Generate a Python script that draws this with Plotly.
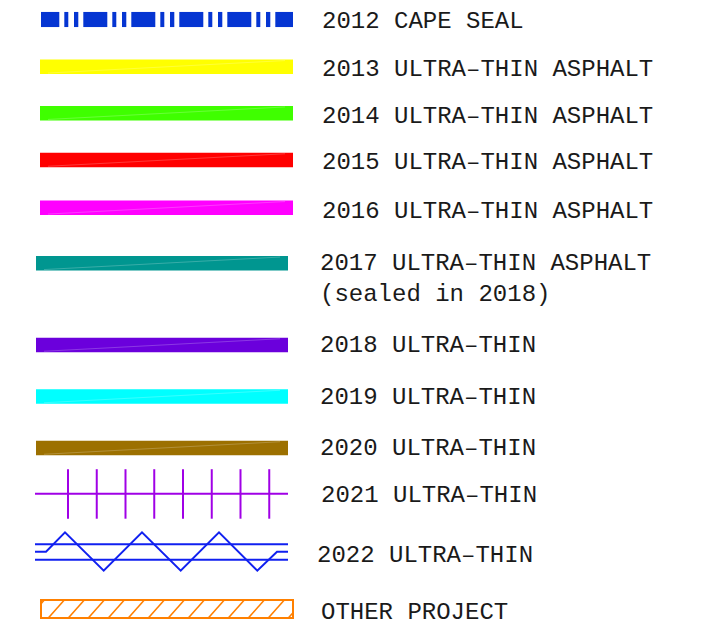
import plotly.graph_objects as go

# ---- legend content ----
labels = [
    "2012 CAPE SEAL",
    "2013 ULTRA–THIN ASPHALT",
    "2014 ULTRA–THIN ASPHALT",
    "2015 ULTRA–THIN ASPHALT",
    "2016 ULTRA–THIN ASPHALT",
    "2017 ULTRA–THIN ASPHALT<br>(sealed in 2018)",
    "2018 ULTRA–THIN",
    "2019 ULTRA–THIN",
    "2020 ULTRA–THIN",
    "2021 ULTRA–THIN",
    "2022 ULTRA–THIN",
    "OTHER PROJECT",
]
kinds = ["dashbar", "bar", "bar", "bar", "bar", "bar", "bar", "bar", "bar",
         "ticks", "zigzag", "hatch"]
colors = ["#0535D2", "#FFFF00", "#3FFF00", "#FF0000", "#FF00FF", "#009690",
          "#6B00DC", "#00FFFF", "#9C7000", "#A000E6", "#1020F0", "#FF8000"]

# ---- layout (pixel space) ----
W, H = 712, 632
row_y = [19.5, 66.8, 113.2, 160, 207.8, 263.3, 345, 396.5, 448, 493.7, 552, 609]
sym_x = [(41, 293), (40, 293), (40, 293), (40, 293), (40, 293), (36, 288),
         (36, 288), (36, 288), (36, 288), (35, 288), (35, 288), (41, 293)]
text_x = [320, 320, 320, 320, 320, 318, 318, 318, 318, 319, 315, 319]
text_y = [21, 69, 116, 162, 211, 278.5, 345.5, 397.5, 448, 495, 555, 612]
bar_h = 14.5

fig = go.Figure()
shapes = []

def line_trace(xs, ys, color, width):
    fig.add_trace(go.Scatter(x=xs, y=ys, mode="lines",
                             line=dict(color=color, width=width),
                             hoverinfo="skip", showlegend=False))

for i, kind in enumerate(kinds):
    c = colors[i]
    x0, x1 = sym_x[i]
    yc = row_y[i]
    if kind == "bar":
        y0, y1 = yc - bar_h / 2, yc + bar_h / 2
        shapes.append(dict(type="rect", xref="x", yref="y", x0=x0, x1=x1,
                           y0=y0, y1=y1, fillcolor=c, line=dict(width=0),
                           layer="below"))
        line_trace([x0 + 8, x1 - 8], [y1 - 1, y0 + 1],
                   "rgba(255,255,255,0.22)", 1)
    elif kind == "dashbar":
        y0, y1 = yc - bar_h / 2 - 0.3, yc + bar_h / 2 + 0.3
        segs = [(x0, 59.3)]
        start = 83.3
        while start < x1:
            segs.append((start - 19, start - 15))
            segs.append((start - 9.3, start - 5))
            segs.append((start, min(start + 24, x1)))
            start += 48
        for a, b in segs:
            shapes.append(dict(type="rect", xref="x", yref="y", x0=a, x1=b,
                               y0=y0, y1=y1, fillcolor=c, line=dict(width=0),
                               layer="below"))
    elif kind == "ticks":
        line_trace([x0, x1], [yc, yc], c, 2)
        xs, ys = [], []
        for k in range(8):
            tx = 68 + 28.75 * k
            xs += [tx, tx, None]
            ys += [yc - 24.5, yc + 25, None]
        line_trace(xs, ys, c, 2)
    elif kind == "zigzag":
        line_trace([x0, x1], [yc - 7.7, yc - 7.7], c, 2)
        line_trace([x0, x1], [yc + 7.7, yc + 7.7], c, 2)
        zx = [x0, 46, 65, 103.7, 142, 180.7, 219, 257.3, 277, x1]
        zy = [yc - 0.3, yc - 0.3, yc - 19.7, yc + 18.7, yc - 19.7, yc + 18.7,
              yc - 19.7, yc + 18.7, yc - 0.3, yc - 0.3]
        line_trace(zx, zy, c, 2)
    elif kind == "hatch":
        y0, y1 = yc - 9, yc + 9
        shapes.append(dict(type="rect", xref="x", yref="y", x0=x0, x1=x1,
                           y0=y0, y1=y1, fillcolor="rgba(0,0,0,0)",
                           line=dict(color=c, width=2)))
        dx = 16.0
        xs, ys = [], []
        p = 48.3 - 20
        while p < x1:
            bx, by = p, y1
            tx, ty = p + dx, y0
            if bx < x0:
                by = y1 - (x0 - p) / dx * (y1 - y0)
                bx = x0
            if tx > x1:
                ty = y1 - (x1 - p) / dx * (y1 - y0)
                tx = x1
            xs += [bx, tx, None]
            ys += [by, ty, None]
            p += 20
        line_trace(xs, ys, c, 1.6)

annotations = []
for i, lab in enumerate(labels):
    annotations.append(dict(x=text_x[i], y=text_y[i], xref="x", yref="y",
                            text=lab, showarrow=False, xanchor="left",
                            yanchor="middle", align="left",
                            font=dict(family="Liberation Mono", size=24,
                                      color="#1a1a1a")))

fig.update_layout(
    width=W, height=H,
    margin=dict(l=0, r=0, t=0, b=0),
    paper_bgcolor="white", plot_bgcolor="white",
    xaxis=dict(range=[0, W], visible=False, fixedrange=True),
    yaxis=dict(range=[H, 0], visible=False, fixedrange=True),
    shapes=shapes, annotations=annotations, showlegend=False,
)

fig.write_html("out.html", config={"displayModeBar": False},
               post_script="document.body.style.margin='0px';"
                           "document.body.style.overflow='hidden';")
